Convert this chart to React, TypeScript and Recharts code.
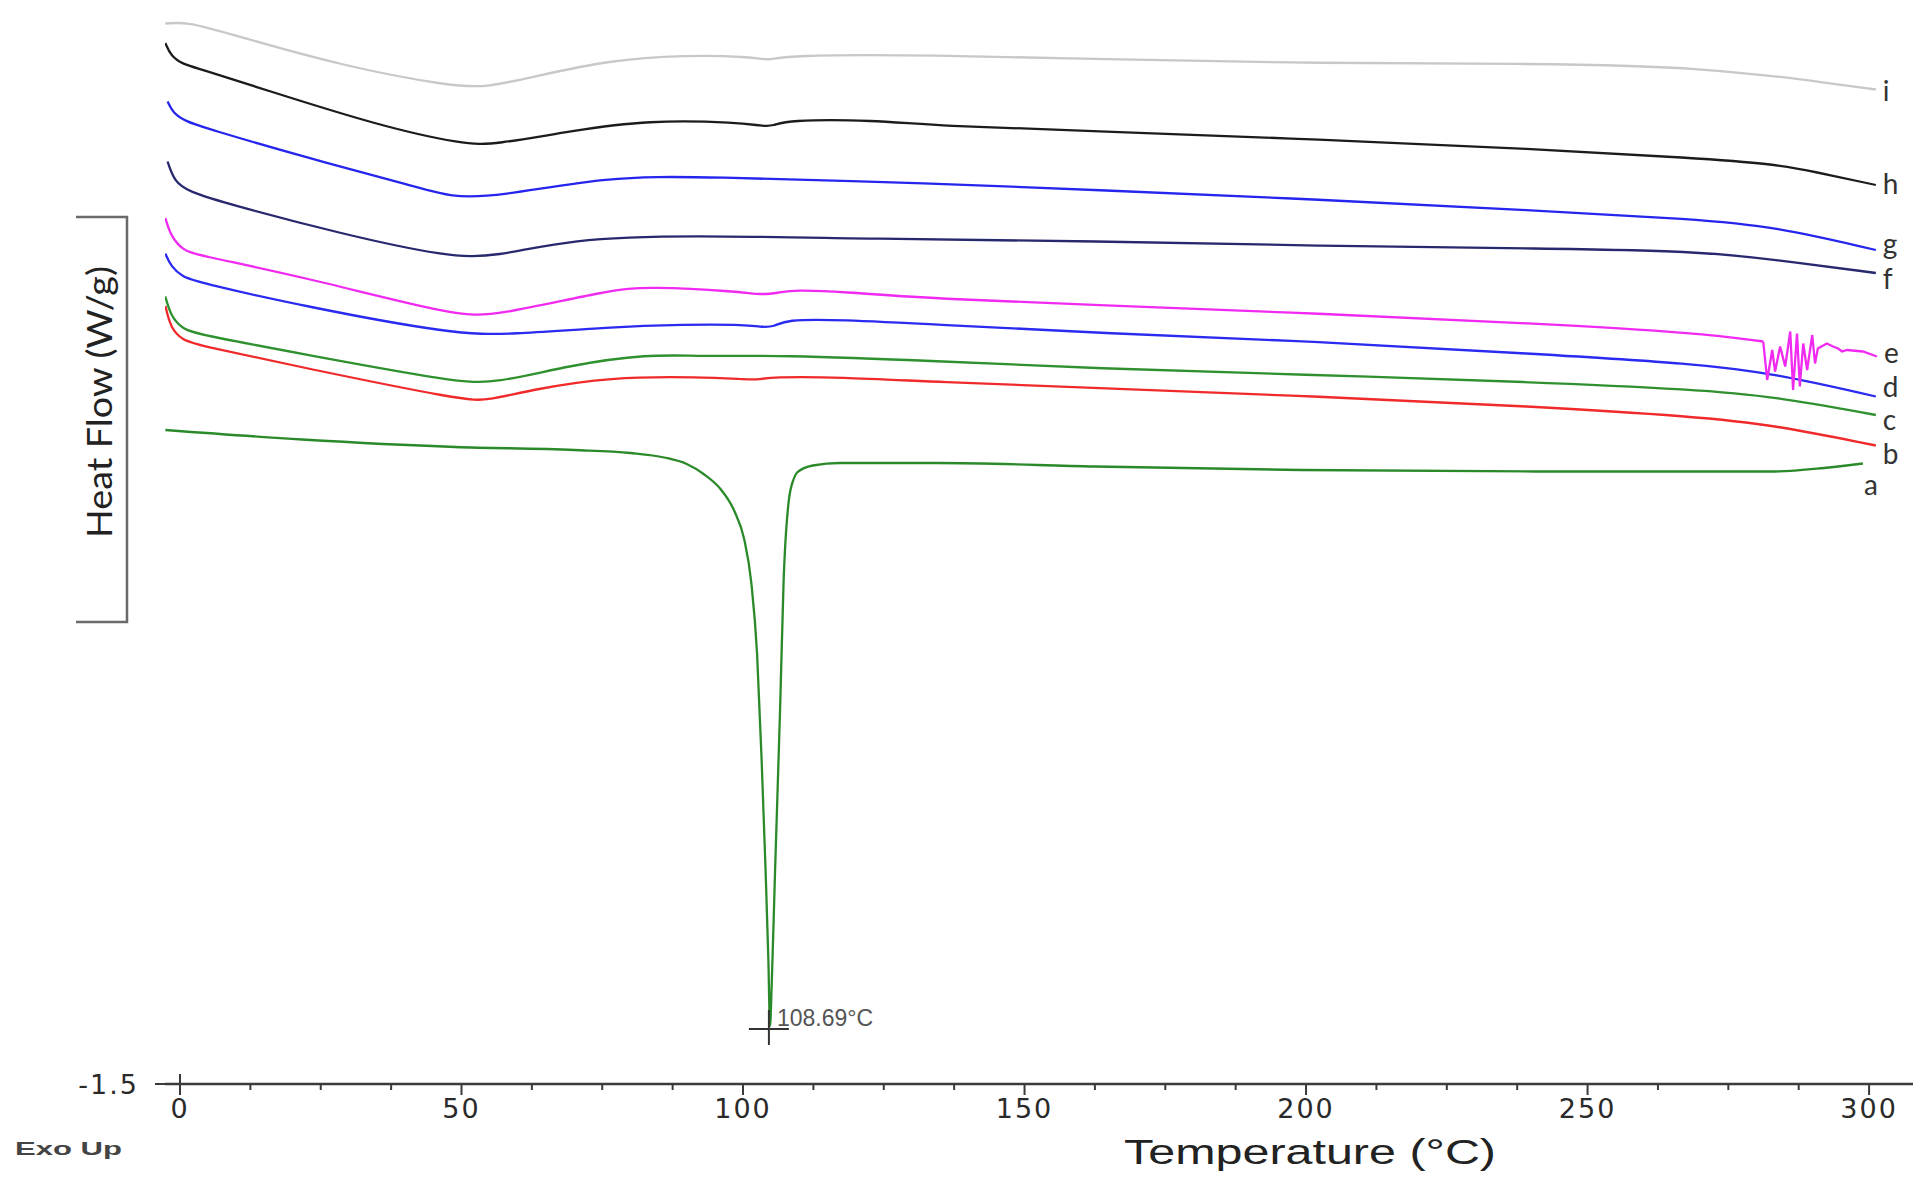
import React from 'react';
import { ComposedChart, Line, XAxis, YAxis, ReferenceDot } from 'recharts';

type Pt = [number, number];

// Temperature (°C), Heat Flow (W/g)
const curveA: Pt[] = [
  [-2.6, -0.192], [21.7, -0.211], [48.9, -0.226], [70.0, -0.232], [80.0, -0.238], [86.0, -0.247],
  [90.0, -0.26], [93.0, -0.28], [96.0, -0.31], [98.5, -0.355], [100.2, -0.41], [101.5, -0.5],
  [102.5, -0.64], [103.3, -0.85], [104.0, -1.07], [104.5, -1.25], [104.8, -1.384], [105.1, -1.3],
  [105.7, -1.071], [106.6, -0.745], [107.2, -0.498], [108.1, -0.336], [109.0, -0.29], [109.6, -0.277],
  [112.4, -0.263], [117.2, -0.258], [134.4, -0.258], [162.5, -0.265], [199.0, -0.272], [240.8, -0.275],
  [283.2, -0.275], [292.0, -0.268], [298.9, -0.259],
];
const curveB: Pt[] = [
  [-2.6, 0.056], [-1.6, 0.01], [0.5, -0.012], [3.0, -0.022], [21.7, -0.067], [50.5, -0.133], [54.6, -0.133],
  [62.6, -0.111], [76.3, -0.086], [92.4, -0.086], [101.1, -0.091], [102.8, -0.091], [105.0, -0.086],
  [117.0, -0.086], [134.4, -0.096], [162.5, -0.108], [202.5, -0.125], [240.8, -0.145], [269.0, -0.165],
  [283.2, -0.182], [301.2, -0.223],
];
const curveC: Pt[] = [
  [-2.6, 0.075], [-1.6, 0.035], [0.5, 0.01], [3.0, 0.0], [21.7, -0.04], [48.9, -0.096], [55.9, -0.099],
  [69.4, -0.062], [83.1, -0.04], [92.4, -0.045], [106.4, -0.042], [134.4, -0.054], [162.5, -0.069],
  [199.0, -0.081], [240.8, -0.096], [269.0, -0.111], [283.2, -0.125], [301.2, -0.162],
];
const curveD: Pt[] = [
  [-2.6, 0.161], [-1.6, 0.135], [0.5, 0.114], [3.0, 0.104], [21.7, 0.056], [48.9, -0.001], [58.5, -0.001],
  [76.3, 0.014], [89.8, 0.019], [99.4, 0.019], [103.3, 0.014], [105.5, 0.014], [107.5, 0.029],
  [117.0, 0.029], [134.4, 0.019], [162.5, 0.002], [202.5, -0.015], [240.8, -0.04], [269.0, -0.059],
  [283.2, -0.079], [301.2, -0.125],
];
const curveE: Pt[] = [
  [-2.6, 0.232], [-1.6, 0.195], [0.5, 0.168], [3.0, 0.158], [21.7, 0.115], [48.9, 0.036], [55.9, 0.036],
  [76.3, 0.088], [83.1, 0.095], [99.4, 0.085], [103.3, 0.078], [106.4, 0.083], [109.4, 0.088],
  [117.0, 0.085], [134.4, 0.07], [162.5, 0.058], [202.5, 0.041], [240.8, 0.021], [270.0, 0.002],
  [281.2, -0.015],
];
const curveENoise: Pt[] = [
  [281.2, -0.015], [281.9, -0.092], [282.8, -0.032], [283.3, -0.075], [284.2, -0.025], [285.1, -0.065],
  [286.0, 0.005], [286.5, -0.112], [287.2, 0.001], [287.7, -0.105], [288.3, -0.019], [289.0, -0.072],
  [289.9, -0.002], [290.4, -0.059], [290.9, -0.029], [292.5, -0.019], [293.6, -0.025], [294.5, -0.029],
  [295.2, -0.035], [296.1, -0.032], [298.9, -0.035], [301.4, -0.045],
];
const curveF: Pt[] = [
  [-2.2, 0.345], [-1.0, 0.305], [1.5, 0.285], [8.3, 0.261], [28.7, 0.2], [47.6, 0.154], [55.9, 0.154],
  [69.4, 0.19], [89.8, 0.198], [123.3, 0.19], [162.5, 0.186], [202.5, 0.176], [242.5, 0.171],
  [269.0, 0.166], [283.2, 0.149], [301.2, 0.122],
];
const curveG: Pt[] = [
  [-2.2, 0.465], [-1.3, 0.443], [1.0, 0.425], [4.8, 0.411], [21.7, 0.355], [42.2, 0.294], [48.0, 0.274],
  [56.0, 0.274], [76.3, 0.315], [92.4, 0.315], [134.4, 0.301], [162.5, 0.288], [202.5, 0.269],
  [240.8, 0.247], [269.0, 0.23], [283.2, 0.215], [301.2, 0.168],
];
const curveH: Pt[] = [
  [-2.6, 0.582], [-1.6, 0.556], [0.5, 0.54], [3.0, 0.532], [15.0, 0.489], [35.5, 0.416], [50.5, 0.379],
  [55.9, 0.379], [69.4, 0.406], [83.1, 0.428], [99.4, 0.423], [103.3, 0.416], [105.5, 0.416],
  [107.5, 0.428], [123.3, 0.428], [134.4, 0.416], [162.5, 0.406], [202.5, 0.389], [240.8, 0.37],
  [269.0, 0.352], [283.2, 0.34], [290.1, 0.325], [301.2, 0.298],
];
const curveI: Pt[] = [
  [-2.6, 0.621], [1.5, 0.624], [8.3, 0.602], [28.7, 0.536], [48.9, 0.494], [54.6, 0.494], [62.6, 0.514],
  [76.3, 0.548], [89.8, 0.558], [101.1, 0.555], [104.8, 0.546], [107.0, 0.558], [134.4, 0.558],
  [162.5, 0.55], [202.5, 0.541], [240.8, 0.541], [258.6, 0.536], [269.0, 0.531], [283.2, 0.516],
  [290.1, 0.506], [301.2, 0.489],
];

const seriesNames = ['a', 'b', 'c', 'd', 'e', 'f', 'g', 'h', 'i'];
const seriesData = [curveA, curveB, curveC, curveD, curveE, curveF, curveG, curveH, curveI];
const labelSeries = [curveA, curveB, curveC, curveD, curveENoise, curveF, curveG, curveH, curveI];

const xTicks = [0, 12.5, 25, 37.5, 50, 62.5, 75, 87.5, 100, 112.5, 125, 137.5, 150, 162.5, 175, 187.5, 200,
  212.5, 225, 237.5, 250, 262.5, 275, 287.5, 300];
const yTicks = [-1.5];
const peakT = 104.6;
const peakV = -1.39;
const peakLabel = '108.69°C';
const xTitle = 'Temperature (°C)';
const yTitle = 'Heat Flow (W/g)';
const cornerNote = 'Exo Up';

// styles (kept apart from data)
const seriesColors = ['#2a8a2a', '#f02a2a', '#2f902f', '#2a2af0', '#f02af0', '#28286e', '#2525ee', '#1c1c1c', '#c8c8c8'];
const seriesCurve: any[] = ['monotone', 'basis', 'basis', 'basis', 'basis', 'basis', 'basis', 'basis', 'basis'];
const labelOffsets: Pt[] = [[1, 20], [7, 7], [7, 4], [7, -11], [7, -5], [7, 5], [7, -7], [7, -2], [7, 0]];

const AXIS = '#3a3a3a';
const TICK_FONT = 'DejaVu Sans';

const toRows = (pts: Pt[]) => pts.map(([t, v]) => ({ t, v }));

const XTick = (props: any) => {
  const { x, y, payload } = props;
  const v = payload.value as number;
  const major = v % 50 === 0;
  return (
    <g>
      <line x1={x} x2={x} y1={v === 0 ? y - 10 : y} y2={y + (major ? 11 : 6)} stroke={AXIS} strokeWidth={2} />
      {major && (
        <text x={x} y={y + 24} textAnchor="middle" dominantBaseline="central" fontSize={27}
          fontFamily={TICK_FONT} letterSpacing={2} fill="#2a2a2a">{v}</text>
      )}
    </g>
  );
};

const YTick = (props: any) => {
  const { x, y, payload } = props;
  return (
    <text x={x} y={y} textAnchor="end" dominantBaseline="central" fontSize={27}
      fontFamily={TICK_FONT} letterSpacing={2} fill="#2a2a2a">{payload.value}</text>
  );
};

const XTitle = () => (
  <g>
    <text x={1310} y={1151} textAnchor="middle" dominantBaseline="central" fontSize={35}
      fontFamily="Liberation Sans" fill="#222" textLength={372} lengthAdjust="spacingAndGlyphs">{xTitle}</text>
    <text x={15} y={1149} dominantBaseline="central" fontSize={18} fontWeight="bold"
      fontFamily="Liberation Sans" fill="#444" textLength={107} lengthAdjust="spacingAndGlyphs">{cornerNote}</text>
  </g>
);

const YTitle = () => (
  <g>
    <path d="M76 217 H127 V622 H76" fill="none" stroke="#6a6a6a" strokeWidth={2.5} />
    <text x={98} y={402} transform="rotate(-90 98 402)" textAnchor="middle" dominantBaseline="central"
      fontSize={35} fontFamily="Lato" fill="#222" textLength={272} lengthAdjust="spacingAndGlyphs">{yTitle}</text>
  </g>
);

const PeakMark = (props: any) => {
  const { cx, cy } = props;
  return (
    <g>
      <line x1={cx - 20} x2={cx + 20} y1={cy} y2={cy} stroke="#333" strokeWidth={2} />
      <line x1={cx} x2={cx} y1={cy - 19} y2={cy + 16} stroke="#333" strokeWidth={2} />
      <text x={cx + 8} y={cy - 11} dominantBaseline="central" fontSize={23} fontFamily="Liberation Sans"
        fill="#555">{peakLabel}</text>
    </g>
  );
};

const makeEndLabel = (name: string, off: Pt) => (props: any) => {
  const { cx, cy } = props;
  return (
    <text x={cx + off[0]} y={cy + off[1]} dominantBaseline="central" fontSize={28} fontFamily="Lato"
      fill="#333">{name}</text>
  );
};

export default function App() {
  return (
    <div style={{ position: 'absolute', left: 0, top: 0, width: 1920, height: 1179, background: '#fff' }}>
      <ComposedChart width={1920} height={1179} margin={{ top: 9, right: 7, bottom: 55, left: 85 }}>
        <XAxis type="number" dataKey="t" domain={[-2.66, 307.8]} ticks={xTicks} interval={0}
          allowDataOverflow axisLine={{ stroke: AXIS, strokeWidth: 2.5 }} tickLine={false}
          tickSize={0} tickMargin={0} height={40} tick={<XTick />} label={<XTitle />} />
        <YAxis type="number" domain={[-1.5, 0.65]} ticks={yTicks} allowDataOverflow axisLine={false}
          tickLine={{ stroke: AXIS, strokeWidth: 2 }} tickSize={10} tickMargin={16} width={80}
          tick={<YTick />} label={<YTitle />} />
        {seriesData.map((d, i) => (
          <Line key={seriesNames[i]} data={toRows(d)} dataKey="v" type={seriesCurve[i]} stroke={seriesColors[i]}
            strokeWidth={2.3} dot={false} activeDot={false} isAnimationActive={false} />
        ))}
        <Line key="e-noise" data={toRows(curveENoise)} dataKey="v" type="linear" stroke={seriesColors[4]}
          strokeWidth={2.3} dot={false} activeDot={false} isAnimationActive={false} />
        {labelSeries.map((d, i) => (
          <ReferenceDot key={'lbl' + seriesNames[i]} x={d[d.length - 1][0]} y={d[d.length - 1][1]} r={0}
            shape={makeEndLabel(seriesNames[i], labelOffsets[i])} />
        ))}
        <ReferenceDot x={peakT} y={peakV} r={0} shape={PeakMark} />
      </ComposedChart>
    </div>
  );
}
